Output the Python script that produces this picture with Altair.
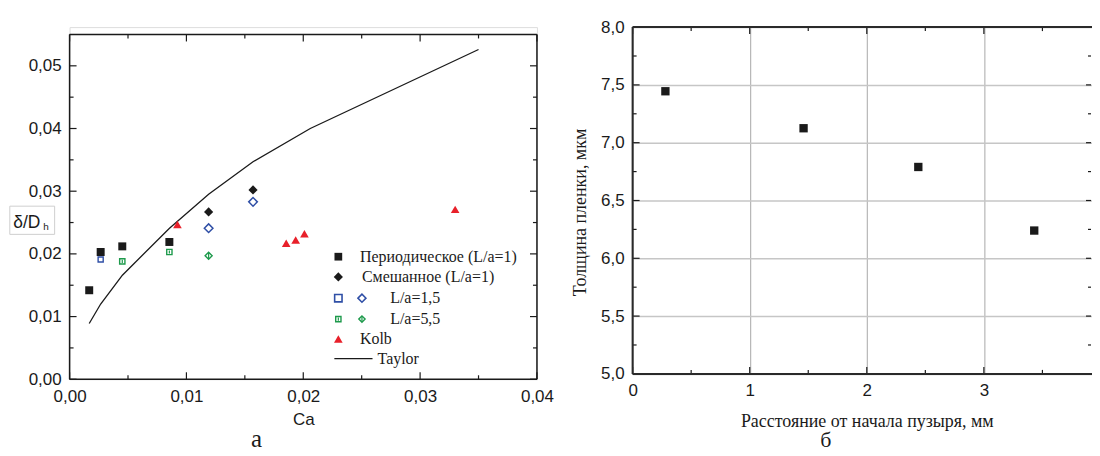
import altair as alt
import pandas as pd

# ---------------- data: left panel (a) ----------------
per_ca = [0.00168, 0.00266, 0.00451, 0.00854]
per_d = [0.0142, 0.0203, 0.0212, 0.0219]
mix_ca = [0.0119, 0.0157]
mix_d = [0.0267, 0.0302]
l15_sq_ca = [0.00266]
l15_sq_d = [0.0191]
l15_di_ca = [0.0119, 0.0157]
l15_di_d = [0.0241, 0.0283]
l55_sq_ca = [0.00451, 0.00854]
l55_sq_d = [0.0188, 0.0203]
l55_di_ca = [0.0119]
l55_di_d = [0.0197]
kolb_ca = [0.00923, 0.01854, 0.01935, 0.0201, 0.0330]
kolb_d = [0.0247, 0.0217, 0.0222, 0.0232, 0.0271]
taylor_ca = [0.00168, 0.00266, 0.00452, 0.00855, 0.0119, 0.0157, 0.0206, 0.0350]
taylor_d = [0.0089, 0.0120, 0.0166, 0.0241, 0.0295, 0.0347, 0.0400, 0.0526]

left_x_ticks = [0.0, 0.01, 0.02, 0.03, 0.04]
left_x_minor = [0.005, 0.015, 0.025, 0.035]
left_y_ticks = [0.0, 0.01, 0.02, 0.03, 0.04, 0.05]
left_y_minor = [0.005, 0.015, 0.025, 0.035, 0.045]

legend_labels = ["Периодическое (L/a=1)", "Смешанное (L/a=1)", "L/a=1,5", "L/a=5,5", "Kolb", "Taylor"]

# ---------------- data: right panel (б) ----------------
dist_mm = [0.28, 1.46, 2.44, 3.43]
film_um = [7.445, 7.125, 6.79, 6.24]
right_x_ticks = [0, 1, 2, 3, 4]
right_x_minor = [0.5, 1.5, 2.5, 3.5]
right_y_ticks = [5.0, 5.5, 6.0, 6.5, 7.0, 7.5, 8.0]
right_y_minor = [5.25, 5.75, 6.25, 6.75, 7.25, 7.75]

SANS = "Liberation Sans"
SERIF = "Liberation Serif"
BLUE = "#2f4fa6"
GREEN = "#1e9a4c"
RED = "#e8202a"
BLACK = "#1a1a1a"

# left group: height covers the right plot's top (offset OFF) down to the left x axis
OFF = 7.4
LW, LH = 469, 353.4
RW, RH = 470, 348
RVIS = 460  # visible part of the right panel (the page edge cuts it)

lx = alt.Scale(domain=[0, 0.04], nice=False, zero=False)
ly = alt.Scale(domain=[0, 0.055], nice=False, zero=False, range=[LH, OFF])
rx = alt.Scale(domain=[0, 4], nice=False, zero=False)
ry = alt.Scale(domain=[5, 8], nice=False, zero=False)

comma2 = "replace(format(datum.value, '.2f'), '.', ',')"
comma1 = "replace(format(datum.value, '.1f'), '.', ',')"

lx_axis = alt.Axis(
    values=left_x_ticks, labelExpr=comma2, ticks=False, domain=False, grid=False,
    labelFlush=False,
    labelFont=SANS, labelFontSize=17, labelColor=BLACK, labelPadding=9,
    title="Ca", titleFont=SANS, titleFontSize=17, titleFontWeight="normal",
    titleColor=BLACK, titlePadding=7)
ly_axis = alt.Axis(
    values=left_y_ticks, labelExpr=comma2, ticks=False, domain=False, grid=False,
    labelFont=SANS, labelFontSize=17, labelColor=BLACK, labelPadding=8.5, title=None)
rx_axis = alt.Axis(
    values=right_x_ticks, format="d", ticks=False, domain=False, grid=True,
    labelFlush=False, gridColor="#a8a8a8", gridWidth=1,
    labelFont=SANS, labelFontSize=17, labelColor=BLACK, labelPadding=9,
    title="Расстояние от начала пузыря, мм", titleFont=SERIF, titleFontSize=18,
    titleFontWeight="normal", titleColor=BLACK, titlePadding=14)
ry_axis = alt.Axis(
    values=right_y_ticks, labelExpr=comma1, ticks=False, domain=False, grid=True,
    gridColor="#c6c6c6", gridWidth=1.5,
    labelFont=SANS, labelFontSize=17, labelColor=BLACK, labelPadding=8.5,
    title="Толщина пленки, мкм", titleFont=SERIF, titleFontSize=18,
    titleFontWeight="normal", titleColor=BLACK, titlePadding=11, titleY=185.5)


def df(**cols):
    return pd.DataFrame(cols)


def X(s, a):
    return alt.X("x:Q", scale=s, axis=a)


def Y(s, a):
    return alt.Y("y:Q", scale=s, axis=a)


def pts(xs, ys, P, **mark):
    return alt.Chart(df(x=xs, y=ys)).mark_point(opacity=1, **mark).encode(
        x=X(P["xs"], P["xa"]), y=Y(P["ys"], P["ya"]))


def vticks(vals, P, L):
    d = df(x=vals)
    T, B = P["T"], P["B"]
    bottom = alt.Chart(d).mark_rule(color=BLACK, strokeWidth=1.2).encode(
        x=X(P["xs"], P["xa"]), y=alt.value(B - L), y2=alt.value(B))
    top = alt.Chart(d).mark_rule(color=BLACK, strokeWidth=1.2).encode(
        x=X(P["xs"], P["xa"]), y=alt.value(T), y2=alt.value(T + L))
    return [bottom, top]


def hticks(vals, P, L, right_edge=None, right_len=None):
    d = df(y=vals)
    W = P["W"] if right_edge is None else right_edge
    RL = L if right_len is None else right_len
    left = alt.Chart(d).mark_rule(color=BLACK, strokeWidth=1.2).encode(
        y=Y(P["ys"], P["ya"]), x=alt.value(0), x2=alt.value(L))
    right = alt.Chart(d).mark_rule(color=BLACK, strokeWidth=1.2).encode(
        y=Y(P["ys"], P["ya"]), x=alt.value(W - RL), x2=alt.value(W))
    return [left, right]


def frame(P, color=BLACK, sw=1.5):
    W, T, B = P["W"], P["T"], P["B"]
    one = df(a=[0])
    return [
        alt.Chart(one).mark_rule(color=color, strokeWidth=sw).encode(
            x=alt.value(0), y=alt.value(T), y2=alt.value(B)),
        alt.Chart(one).mark_rule(color=color, strokeWidth=sw).encode(
            x=alt.value(W), y=alt.value(T), y2=alt.value(B)),
        alt.Chart(one).mark_rule(color=color, strokeWidth=sw).encode(
            y=alt.value(T), x=alt.value(0), x2=alt.value(W)),
        alt.Chart(one).mark_rule(color=color, strokeWidth=sw).encode(
            y=alt.value(B), x=alt.value(0), x2=alt.value(W)),
    ]


LP = dict(xs=lx, ys=ly, xa=lx_axis, ya=ly_axis, W=LW, T=OFF, B=LH)
RP = dict(xs=rx, ys=ry, xa=rx_axis, ya=ry_axis, W=RW, T=0, B=RH)

taylor = alt.Chart(df(x=taylor_ca, y=taylor_d)).mark_line(color=BLACK, strokeWidth=1.3).encode(
    x=X(lx, lx_axis), y=Y(ly, ly_axis))

left_layers = [taylor]
left_layers += vticks(left_x_ticks, LP, 7) + vticks(left_x_minor, LP, 4)
left_layers += hticks(left_y_ticks, LP, 7) + hticks(left_y_minor, LP, 4)
left_layers += frame(LP)
left_layers += [
    pts(per_ca, per_d, LP, shape="square", filled=True, size=64, color=BLACK),
    pts(mix_ca, mix_d, LP, shape="diamond", filled=True, size=85, color=BLACK),
    pts(l15_sq_ca, l15_sq_d, LP, shape="square", filled=False, size=26, color=BLUE, strokeWidth=1.4),
    pts(l15_di_ca, l15_di_d, LP, shape="diamond", filled=False, size=75, color=BLUE, strokeWidth=1.5),
    pts(l55_sq_ca, l55_sq_d, LP, shape="square", filled=False, size=28, color=GREEN, strokeWidth=1.4),
    pts(l55_sq_ca, l55_sq_d, LP, shape="stroke", size=10, color=GREEN, strokeWidth=1.2, angle=90),
    pts(l55_di_ca, l55_di_d, LP, shape="diamond", filled=False, size=50, color=GREEN, strokeWidth=1.4),
    pts(l55_di_ca, l55_di_d, LP, shape="stroke", size=40, color=GREEN, strokeWidth=1.2, angle=90),
    pts(kolb_ca, kolb_d, LP, shape="triangle-up", filled=True, size=75, color=RED),
]

# ---- legend (pixel layout inside the plot) ----
row_y = [v + OFF for v in [223, 243.3, 264.6, 285.6, 305.6, 325.3]]
c1, c2 = 269.7, 293.4
text_x = [291.4, 293.4, 321.7, 321.7, 291.4, 309]


def sym(x, y, **mark):
    return alt.Chart(df(a=[0])).mark_point(opacity=1, **mark).encode(
        x=alt.value(x), y=alt.value(y))


left_layers += [
    sym(c1, row_y[0], shape="square", filled=True, size=60, color=BLACK),
    sym(c1, row_y[1], shape="diamond", filled=True, size=85, color=BLACK),
    sym(c1, row_y[2], shape="square", filled=False, size=55, color=BLUE, strokeWidth=1.6),
    sym(c2, row_y[2], shape="diamond", filled=False, size=65, color=BLUE, strokeWidth=1.5),
    sym(c1, row_y[3], shape="square", filled=False, size=28, color=GREEN, strokeWidth=1.4),
    sym(c1, row_y[3], shape="stroke", size=10, color=GREEN, strokeWidth=1.2, angle=90),
    sym(c2, row_y[3], shape="diamond", filled=False, size=40, color=GREEN, strokeWidth=1.4),
    sym(c2, row_y[3], shape="stroke", size=30, color=GREEN, strokeWidth=1.2, angle=90),
    sym(c1, row_y[4], shape="triangle-up", filled=True, size=75, color=RED),
    alt.Chart(df(a=[0])).mark_rule(color=BLACK, strokeWidth=1.3).encode(
        x=alt.value(265.7), x2=alt.value(304), y=alt.value(row_y[5])),
]
for lab, tx, ty in zip(legend_labels, text_x, row_y):
    left_layers.append(
        alt.Chart(df(t=[lab])).mark_text(align="left", baseline="middle", font=SERIF,
                                         fontSize=16, color=BLACK).encode(
            text="t:N", x=alt.value(tx), y=alt.value(ty)))

# ---- boxed y label  δ/D_h and panel letter ----
LETTER_Y = 421.5  # baseline of the panel letters, relative to the group top
left_layers += [
    alt.Chart(df(a=[0])).mark_rect(fill="white", stroke="#cfcfcf", strokeWidth=1).encode(
        x=alt.value(-60), x2=alt.value(-15), y=alt.value(172.3 + OFF), y2=alt.value(200.6 + OFF)),
    alt.Chart(df(t=["δ/D"])).mark_text(align="left", baseline="alphabetic", font=SANS,
                                      fontSize=17.5, color=BLACK).encode(
        text="t:N", x=alt.value(-56.6), y=alt.value(194.6 + OFF)),
    alt.Chart(df(t=["h"])).mark_text(align="left", baseline="alphabetic", font=SANS,
                                    fontSize=10, color=BLACK).encode(
        text="t:N", x=alt.value(-26.5), y=alt.value(196.6 + OFF)),
    alt.Chart(df(t=["а"])).mark_text(align="center", baseline="alphabetic", font=SERIF,
                                    fontSize=25, color=BLACK).encode(
        text="t:N", x=alt.value(187.7), y=alt.value(LETTER_Y)),
]

left = alt.layer(*left_layers).properties(width=LW, height=LH)

# ---- right panel ----
right_layers = []
right_layers += vticks(right_x_ticks, RP, 7) + vticks(right_x_minor, RP, 4)
right_layers += hticks(right_y_ticks, RP, 7, right_edge=RVIS, right_len=5)
right_layers += hticks(right_y_minor, RP, 4, right_edge=RVIS, right_len=3)
right_layers += frame(RP, color="#2a2a2a", sw=2)
right_layers.append(pts(dist_mm, film_um, RP, shape="square", filled=True, size=70, color=BLACK))
right_layers.append(
    alt.Chart(df(t=["б"])).mark_text(align="center", baseline="alphabetic", font=SERIF,
                                    fontSize=22, color=BLACK).encode(
        text="t:N", x=alt.value(194), y=alt.value(LETTER_Y)))

right = alt.layer(*right_layers).properties(width=RW, height=RH)

chart = alt.hconcat(left, right, spacing=16).properties(
    padding={"left": 0.8, "top": 8.4, "right": -15, "bottom": -5}
).configure_view(stroke=None).configure(background="white")

chart.save("out.html", embed_options={"renderer": "svg", "actions": False})
